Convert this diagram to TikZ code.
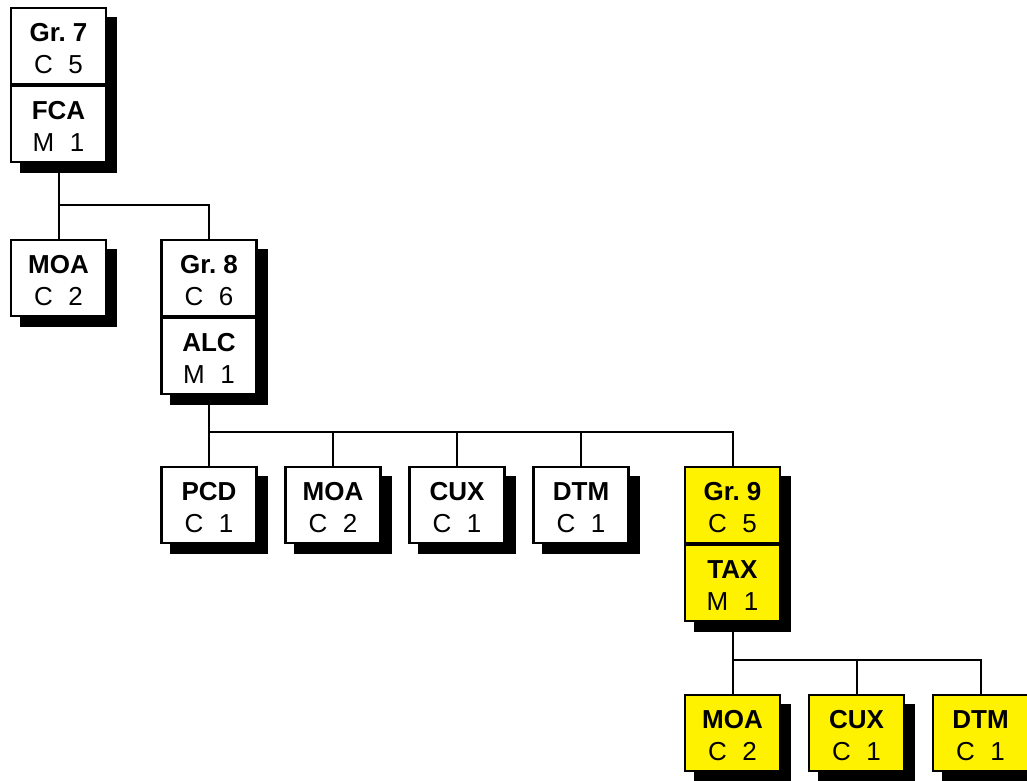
\documentclass[tikz,border=0pt]{standalone}
\usepackage{fontspec}
\setmainfont{Liberation Sans}
\frenchspacing
\pgfdeclarelayer{background}
\pgfsetlayers{background,main}
\tikzset{
  box/.style={draw, line width=2.2pt, fill=white, minimum width=95pt, minimum height=76pt,
    inner sep=0pt, align=center, font=\fontsize{26}{31.5}\selectfont},
  ybox/.style={box, fill=yellow},
  link/.style={line width=2pt},
  shade/.style={fill=black},
}
\newcommand{\lbl}[2]{\rule{0pt}{23pt}\textbf{#1}\\#2}
\newcommand{\dropshade}[2]{\begin{pgfonlayer}{background}\fill[shade] ([shift={(10,10)}]#1.north west) rectangle ([shift={(10,10)}]#2.south east);\end{pgfonlayer}}
\begin{document}
\begin{tikzpicture}[x=1pt, y=-1pt]
\useasboundingbox (0,0) rectangle (1027,780);
\clip (0,0) rectangle (1027,780);
% level 1
\node[box] (g7) at (58.5,46) {\lbl{Gr. 7}{C\hspace{0.6em}5}};
\node[box, anchor=north] (fca) at (g7.south) {\lbl{FCA}{M\hspace{0.6em}1}};
\dropshade{g7}{fca}
% level 2
\node[box] (moa1) at (58.5,278) {\lbl{MOA}{C\hspace{0.6em}2}};
\dropshade{moa1}{moa1}
\node[box] (g8) at (209,278) {\lbl{Gr. 8}{C\hspace{0.6em}6}};
\node[box, anchor=north] (alc) at (g8.south) {\lbl{ALC}{M\hspace{0.6em}1}};
\dropshade{g8}{alc}
% level 3
\node[box] (pcd) at (209,505) {\lbl{PCD}{C\hspace{0.6em}1}};
\node[box] (moa2) at (333,505) {\lbl{MOA}{C\hspace{0.6em}2}};
\node[box] (cux1) at (457,505) {\lbl{CUX}{C\hspace{0.6em}1}};
\node[box] (dtm1) at (581,505) {\lbl{DTM}{C\hspace{0.6em}1}};
\dropshade{pcd}{pcd}
\dropshade{moa2}{moa2}
\dropshade{cux1}{cux1}
\dropshade{dtm1}{dtm1}
\node[ybox] (g9) at (732.5,505) {\lbl{Gr. 9}{C\hspace{0.6em}5}};
\node[ybox, anchor=north] (tax) at (g9.south) {\lbl{TAX}{M\hspace{0.6em}1}};
\dropshade{g9}{tax}
% level 4
\node[ybox] (moa3) at (732.5,733) {\lbl{MOA}{C\hspace{0.6em}2}};
\node[ybox] (cux2) at (856.5,733) {\lbl{CUX}{C\hspace{0.6em}1}};
\node[ybox] (dtm2) at (980.5,733) {\lbl{DTM}{C\hspace{0.6em}1}};
\dropshade{moa3}{moa3}
\dropshade{cux2}{cux2}
\dropshade{dtm2}{dtm2}
% connectors
\draw[link] (fca.south) -- ++(0,42) coordinate (j1) -| (g8.north);
\draw[link] (j1) -- (moa1.north);
\draw[link] (alc.south) -- ++(0,37) coordinate (j2) -| (g9.north);
\draw[link] (j2) -- (pcd.north);
\draw[link] (j2) -| (moa2.north);
\draw[link] (j2) -| (cux1.north);
\draw[link] (j2) -| (dtm1.north);
\draw[link] (tax.south) -- ++(0,38) coordinate (j3) -| (dtm2.north);
\draw[link] (j3) -- (moa3.north);
\draw[link] (j3) -| (cux2.north);
\end{tikzpicture}
\end{document}
